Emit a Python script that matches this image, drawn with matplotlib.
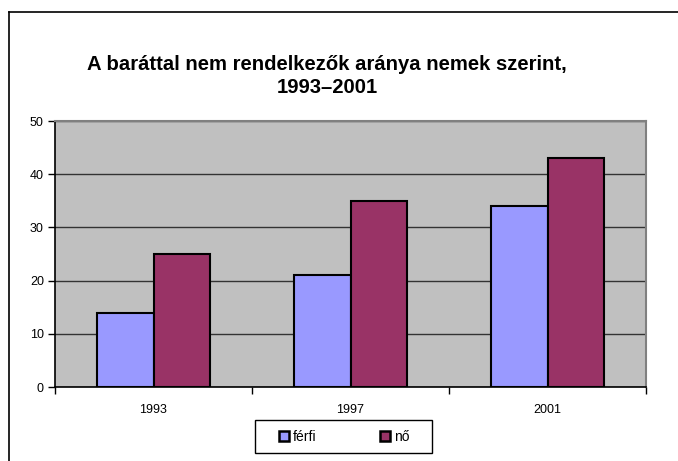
import matplotlib
matplotlib.use("Agg")
import matplotlib.pyplot as plt
from matplotlib.lines import Line2D
from matplotlib.patches import Patch, Rectangle
import numpy as np

plt.rcParams['font.family'] = ['Liberation Sans', 'DejaVu Sans']

years = ["1993", "1997", "2001"]
ferfi = [14, 21, 34]
no = [25, 35, 43]
series_names = ["férfi", "nő"]
title = "A baráttal nem rendelkezők aránya nemek szerint,\n1993–2001"

W, H = 678, 461
fig = plt.figure(figsize=(W/100, H/100), dpi=100)
fig.patch.set_facecolor("white")

ax = fig.add_axes([55/W, 1-387/H, (646-55)/W, (387-121)/H])
ax.set_facecolor("#C0C0C0")

x = np.arange(len(years))
bw = 0.287
ax.bar(x - bw/2, ferfi, bw, color="#9999FF", edgecolor="black", linewidth=1.5, zorder=3)
ax.bar(x + bw/2, no, bw, color="#993366", edgecolor="black", linewidth=1.5, zorder=3)

ax.set_xlim(-0.5, len(years) - 0.5)
ax.set_ylim(0, 50)
ax.set_yticks(range(0, 51, 10))
ax.yaxis.grid(True, color="#333333", linewidth=1, zorder=1)
ax.set_axisbelow(True)

ax.set_xticks(x)
ax.set_xticklabels(years)
ax.set_xticks(np.arange(-0.5, len(years)), minor=True)
ax.tick_params(axis='x', which='major', length=0, pad=12, labelsize=9)
ax.tick_params(axis='x', which='minor', length=5, width=1, direction='out', color='black')
ax.tick_params(axis='y', length=5, width=1, direction='out', labelsize=9, pad=3)

for s in ['top', 'right']:
    ax.spines[s].set_color('#808080')
    ax.spines[s].set_linewidth(1.5)
for s in ['left', 'bottom']:
    ax.spines[s].set_color('black')
    ax.spines[s].set_linewidth(1.2)

fig.text(327/W, 1 - 76/H, title, ha='center', va='center',
         fontsize=14.6, fontweight='bold', linespacing=1.32)

handles = [Patch(facecolor="#9999FF", edgecolor="black", linewidth=1.8),
           Patch(facecolor="#993366", edgecolor="black", linewidth=1.8)]
leg = fig.legend(handles, series_names, loc='center',
                 bbox_to_anchor=(344/W, 1-437/H),
                 ncol=2, fontsize=10, frameon=False,
                 handlelength=0.75, handleheight=0.75,
                 handletextpad=0.25, columnspacing=4.6, borderpad=0.2)

fig.add_artist(Rectangle((255/W, 1-453/H), (432-255)/W, (453-420)/H,
                         transform=fig.transFigure, facecolor='none',
                         edgecolor='black', linewidth=1))

# outer chart frame (left and top visible)
fig.add_artist(Line2D([8.5/W, 8.5/W], [0, 1-12/H], color='black', linewidth=1.2, transform=fig.transFigure))
fig.add_artist(Line2D([8.5/W, 1], [1-12/H, 1-12/H], color='black', linewidth=1.2, transform=fig.transFigure))

fig.savefig("out.png", dpi=100)
